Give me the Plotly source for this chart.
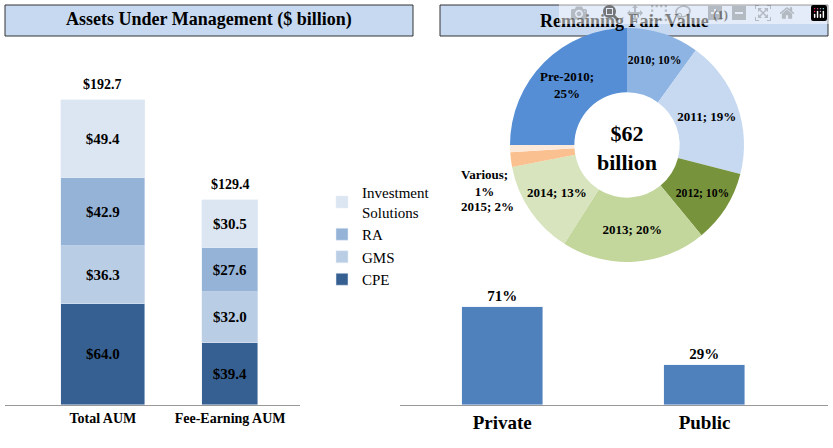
import plotly.graph_objects as go

aum_cats = ["Total AUM", "Fee-Earning AUM"]
segments = ["CPE", "GMS", "RA", "Investment<br>Solutions"]
seg_vals = {"CPE": [64.0, 39.4], "GMS": [36.3, 32.0], "RA": [42.9, 27.6], "Investment<br>Solutions": [49.4, 30.5]}
seg_colors = {"CPE": "#376092", "GMS": "#B9CDE5", "RA": "#95B3D7", "Investment<br>Solutions": "#DCE6F2"}
totals = [192.7, 129.4]

pie_labels = ["2010", "2011", "2012", "2013", "2014", "2015", "Various", "Pre-2010"]
pie_vals = [10, 19, 10, 20, 13, 2, 1, 25]
pie_colors = ["#8EB4E3", "#C6D9F1", "#77933C", "#C3D69B", "#D7E4BD", "#FAC090", "#FDE9D9", "#558ED5"]

pp_cats = ["Private", "Public"]
pp_vals = [71, 29]

W, H = 833, 448
F = "Liberation Serif"
def px(x): return x / W
def py(y): return 1 - y / H

fig = go.Figure()
for s in segments:
    fig.add_trace(go.Bar(x=aum_cats, y=seg_vals[s], name=s, marker_color=seg_colors[s],
                         width=[0.66, 0.44], text=["$%.1f" % v for v in seg_vals[s]],
                         textposition="inside", insidetextanchor="middle",
                         textfont=dict(family=F, size=15, color="black"),
                         texttemplate="<b>%{text}</b>", xaxis="x", yaxis="y", legendgroup=s))
for c, t in zip(aum_cats, totals):
    fig.add_annotation(x=c, y=t, text="<b>$%.1f</b>" % t, showarrow=False, yanchor="bottom",
                       yshift=6, xref="x", yref="y", font=dict(family=F, size=14, color="black"))

tt = []
for l, v in zip(pie_labels, pie_vals):
    if l == "Pre-2010":
        tt.append("<b>%{label};<br>%{value}%</b>")
    elif v >= 10:
        tt.append("<b>%{label}; %{value}%</b>")
    else:
        tt.append("")
fig.add_trace(go.Pie(labels=pie_labels, values=pie_vals, marker=dict(colors=pie_colors),
                     sort=False, direction="clockwise", rotation=0, hole=0.45,
                     domain=dict(x=[px(510), px(744)], y=[py(263), py(27)]),
                     texttemplate=tt, textposition="inside", insidetextorientation="horizontal",
                     textfont=dict(family=F, size=13, color="black"), showlegend=False,
                     hoverinfo="label+percent"))
fig.add_annotation(x=px(627), y=py(148), xref="paper", yref="paper", text="<b>$62<br>billion</b>",
                   showarrow=False, xanchor="center", yanchor="middle",
                   font=dict(family=F, size=22, color="black"))
fig.add_annotation(x=px(484), y=py(183), xref="paper", yref="paper",
                   text="<b>%s;<br>%d%%</b>" % (pie_labels[6], pie_vals[6]), showarrow=False,
                   xanchor="center", yanchor="middle", font=dict(family=F, size=13, color="black"))
fig.add_annotation(x=px(488), y=py(206), xref="paper", yref="paper",
                   text="<b>%s; %d%%</b>" % (pie_labels[5], pie_vals[5]), showarrow=False,
                   xanchor="center", yanchor="middle", font=dict(family=F, size=13, color="black"))

fig.add_trace(go.Bar(x=pp_cats, y=pp_vals, marker_color="#4F81BD", width=0.4,
                     text=["<b>%d%%</b>" % v for v in pp_vals], textposition="outside",
                     textfont=dict(family=F, size=15, color="black"), cliponaxis=False,
                     showlegend=False, xaxis="x2", yaxis="y2"))

shapes = [
    dict(type="rect", xref="paper", yref="paper", x0=px(5), x1=px(413), y0=py(36), y1=py(5),
         fillcolor="#C6D9F1", line=dict(color="#333", width=1), layer="below"),
    dict(type="rect", xref="paper", yref="paper", x0=px(440), x1=px(828), y0=py(36), y1=py(5),
         fillcolor="#C6D9F1", line=dict(color="#333", width=1), layer="below"),
]
fig.add_annotation(x=px(209), y=py(20), xref="paper", yref="paper", showarrow=False,
                   xanchor="center", yanchor="middle",
                   text="<b>Assets Under Management ($ billion)</b>", font=dict(family=F, size=18, color="black"))
fig.add_annotation(x=px(634), y=py(20), xref="paper", yref="paper", showarrow=False,
                   xanchor="center", yanchor="middle",
                   text="<b>Remaining Fair Value <sup>(1)</sup></b>", font=dict(family=F, size=18, color="black"))

fig.update_layout(
    width=W, height=H, margin=dict(l=0, r=0, t=0, b=0), paper_bgcolor="white", plot_bgcolor="white",
    barmode="stack", shapes=shapes, bargap=0,
    xaxis=dict(domain=[px(5), px(300)], range=[-0.77, 1.55], showline=True, linecolor="#999",
               ticks="", tickfont=dict(family=F, size=14, color="black"), anchor="y"),
    yaxis=dict(domain=[py(405), py(60)], range=[0, 218], visible=False),
    xaxis2=dict(domain=[px(400), px(828)], range=[-0.505, 1.61], showline=True, linecolor="#999",
                ticks="", tickfont=dict(family=F, size=19, color="black"), anchor="y2"),
    yaxis2=dict(domain=[py(405), py(280)], range=[0, 90.6], visible=False, anchor="x2"),
    legend=dict(x=px(322), y=py(176), xanchor="left", yanchor="top", traceorder="reversed",
                tracegroupgap=38, font=dict(family=F, size=15, color="black"), bgcolor="rgba(0,0,0,0)"),
)
fig.update_xaxes(tickprefix="<b>", ticksuffix="</b>")
fig.write_html("out.html", post_script="document.body.style.margin='0';document.body.style.padding='0';document.body.style.overflow='hidden';")
